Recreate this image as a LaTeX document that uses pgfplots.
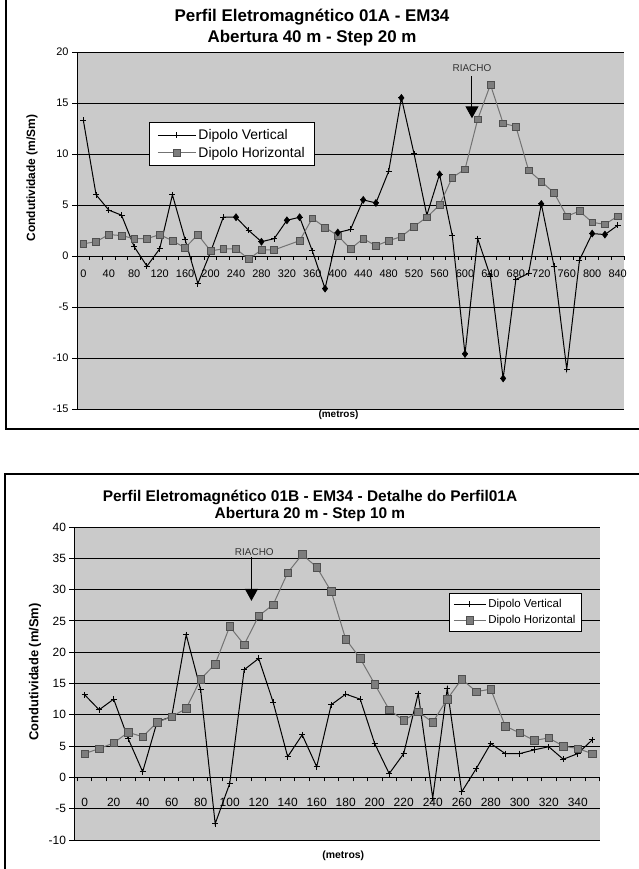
\documentclass[border=0pt]{standalone}
\usepackage{pgfplots}
\pgfplotsset{compat=1.18}
\usepackage{fontspec}
\setmainfont{Liberation Sans}
\usetikzlibrary{arrows.meta}
\definecolor{hline}{RGB}{115,115,115}
\definecolor{hfill}{RGB}{125,125,125}
\definecolor{hdraw}{RGB}{80,80,80}
\definecolor{bg}{RGB}{202,202,202}

\pgfplotstableread{
x y
0 13.3
20 6.0
40 4.5
60 4.0
80 0.9
100 -1.0
120 0.7
140 6.0
160 1.6
180 -2.7
200 0.4
220 3.8
240 3.8
260 2.5
280 1.4
300 1.7
320 3.5
340 3.8
360 0.5
380 -3.2
400 2.3
420 2.6
440 5.5
460 5.2
480 8.3
500 15.5
520 10.0
540 4.0
560 8.0
580 2.0
600 -9.6
620 1.7
640 -2.0
660 -12.0
680 -2.3
700 -1.7
720 5.1
740 -1.0
760 -11.1
780 -0.4
800 2.2
820 2.1
840 3.0
}\topV

\pgfplotstableread{
x y
240 3.8
280 1.4
320 3.5
340 3.8
380 -3.2
400 2.3
440 5.5
460 5.2
500 15.5
560 8.0
600 -9.6
660 -12.0
720 5.1
800 2.2
820 2.1
}\topVdots

\pgfplotstableread{
x y
0 1.2
20 1.4
40 2.1
60 2.0
80 1.7
100 1.7
120 2.1
140 1.5
160 0.8
180 2.1
200 0.5
220 0.7
240 0.7
260 -0.3
280 0.6
300 0.6
340 1.5
360 3.7
380 2.8
400 2.0
420 0.7
440 1.7
460 1.0
480 1.5
500 1.9
520 2.9
540 3.8
560 5.0
580 7.7
600 8.5
620 13.4
640 16.8
660 13.0
680 12.7
700 8.4
720 7.3
740 6.2
760 3.9
780 4.4
800 3.3
820 3.1
840 3.9
}\topH

\pgfplotstableread{
x y
0 13.2
10 10.8
20 12.5
30 6.2
40 0.9
50 8.9
60 9.7
70 22.8
80 14.0
90 -7.4
100 -1.0
110 17.2
120 19.0
130 12.0
140 3.3
150 6.8
160 1.7
170 11.6
180 13.3
190 12.5
200 5.4
210 0.6
220 3.8
230 13.4
240 -3.3
250 14.2
260 -2.3
270 1.4
280 5.4
290 3.8
300 3.8
310 4.4
320 4.9
330 2.9
340 3.8
350 6.0
}\botV

\pgfplotstableread{
x y
0 3.8
10 4.6
20 5.5
30 7.2
40 6.5
50 8.8
60 9.7
70 11.0
80 15.7
90 18.1
100 24.1
110 21.2
120 25.8
130 27.6
140 32.7
150 35.6
160 33.6
170 29.7
180 22.1
190 19.0
200 14.9
210 10.8
220 9.1
230 10.5
240 8.8
250 12.5
260 15.7
270 13.7
280 14.1
290 8.2
300 7.1
310 5.9
320 6.3
330 5.0
340 4.6
350 3.8
}\botH

\pgfplotsset{
  emstyle/.style={
    scale only axis,
    axis y line=left,
    axis x line=middle,
    axis line style={-, black, line width=0.9bp},
    axis background/.style={fill=bg},
    ymajorgrids,
    grid style={black, line width=0.9bp},
    ytick align=outside,
    major tick length=5bp,
    minor tick length=4bp,
    every major x tick/.append style={draw=none},
    every minor x tick/.append style={black, line width=0.9bp},
    every major y tick/.append style={black, line width=0.9bp},
    xtick align=outside,
    /pgf/number format/assume math mode=true,
    legend cell align=left,
  },
  vstyle/.style={black, line width=1bp, mark=+, mark size=3bp, mark options={solid, line width=1bp}},
  hstyle/.style={hline, line width=1bp, mark=square*, mark options={solid, fill=hfill, draw=hdraw, line width=0.6bp}},
}

\begin{document}
\begin{tikzpicture}
\useasboundingbox (0,0) rectangle (639bp,869bp);
\fill[white] (0,0) rectangle (639bp,869bp);
\draw[line width=1.2bp] (6bp,869bp) -- (6bp,440bp) -- (639bp,440bp);
\draw[line width=1.2bp] (5bp,0bp) -- (5bp,395bp) -- (639bp,395bp);

\node[font=\bfseries\fontsize{17}{20}\selectfont] at (312bp,852bp) {Perfil Eletromagnético 01A - EM34};
\node[font=\bfseries\fontsize{17}{20}\selectfont] at (312bp,831bp) {Abertura 40 m - Step 20 m};

\begin{axis}[emstyle,
  at={(77bp,460bp)}, anchor=south west, width=547bp, height=357bp,
  xmin=-10, xmax=850, ymin=-15, ymax=20,
  xtick={0,40,...,840}, minor xtick={-10,10,...,850},
  ytick={-15,-10,...,20},
  xticklabel style={font=\fontsize{11}{13}\selectfont, yshift=-5bp},
  yticklabel style={font=\fontsize{11}{13}\selectfont},
  ylabel={Condutividade (m/Sm)},
  every axis y label/.style={at={(axis description cs:-0.082,0.647)}, rotate=90, anchor=center, font=\bfseries\fontsize{12}{14}\selectfont},
  xlabel={(metros)},
  every axis x label/.style={at={(axis description cs:0.478,0)}, anchor=north, inner sep=0pt, yshift=-1bp, font=\bfseries\fontsize{10}{12}\selectfont},
  legend style={at={(axis description cs:0.1316,0.804)}, anchor=north west, draw=black, line width=1bp, fill=white, font=\fontsize{14}{16}\selectfont, inner xsep=8bp, inner ysep=5bp, row sep=2bp},
  legend image code/.code={\draw[mark repeat=2,mark phase=2,#1] plot coordinates {(0bp,0bp) (19bp,0bp) (38bp,0bp)};},
]
\addplot[vstyle] table {\topV};
\addlegendentry{Dipolo Vertical}
\addplot[hstyle, mark size=3.4bp] table {\topH};
\addlegendentry{Dipolo Horizontal}
\addplot[only marks, mark=diamond*, mark size=3.6bp, black, forget plot] table {\topVdots};
\node[font=\fontsize{10}{12}\selectfont, text=black!80] at (axis cs:611,18.4) {RIACHO};
\draw[black, line width=1bp, -{Triangle[width=13bp,length=12bp]}] (axis cs:611,17.6) -- (axis cs:611,13.5);
\end{axis}

\node[font=\bfseries\fontsize{15.5}{18}\selectfont] at (310bp,372bp) {Perfil Eletromagnético 01B - EM34 - Detalhe do Perfil01A};
\node[font=\bfseries\fontsize{15.5}{18}\selectfont] at (310bp,354bp) {Abertura 20 m - Step 10 m};

\begin{axis}[emstyle,
  at={(74.5bp,29bp)}, anchor=south west, width=525bp, height=313bp,
  xmin=-7, xmax=355, ymin=-10, ymax=40,
  xtick={0,20,...,340}, minor xtick={-5,5,...,355},
  ytick={-10,-5,...,40},
  xticklabel style={font=\fontsize{12}{14}\selectfont, yshift=-12bp},
  yticklabel style={font=\fontsize{12}{14}\selectfont},
  ylabel={Condutividade (m/Sm)},
  every axis y label/.style={at={(axis description cs:-0.075,0.537)}, rotate=90, anchor=center, font=\bfseries\fontsize{13}{15}\selectfont},
  xlabel={(metros)},
  every axis x label/.style={at={(axis description cs:0.512,0)}, anchor=north, inner sep=0pt, yshift=-11bp, font=\bfseries\fontsize{10.5}{12}\selectfont},
  legend style={at={(axis description cs:0.713,0.789)}, anchor=north west, draw=black, line width=1bp, fill=white, font=\fontsize{11.5}{13}\selectfont, inner xsep=4bp, inner ysep=4bp, row sep=2bp},
  legend image code/.code={\draw[mark repeat=2,mark phase=2,#1] plot coordinates {(0bp,0bp) (16bp,0bp) (32bp,0bp)};},
]
\addplot[vstyle] table {\botV};
\addlegendentry{Dipolo Vertical}
\addplot[hstyle, mark size=3.8bp] table {\botH};
\addlegendentry{Dipolo Horizontal}
\node[font=\fontsize{10}{12}\selectfont, text=black!80] at (axis cs:117,36.0) {RIACHO};
\draw[black, line width=1bp, -{Triangle[width=13bp,length=12bp]}] (axis cs:115,35.2) -- (axis cs:115,28.2);
\end{axis}
\end{tikzpicture}
\end{document}
